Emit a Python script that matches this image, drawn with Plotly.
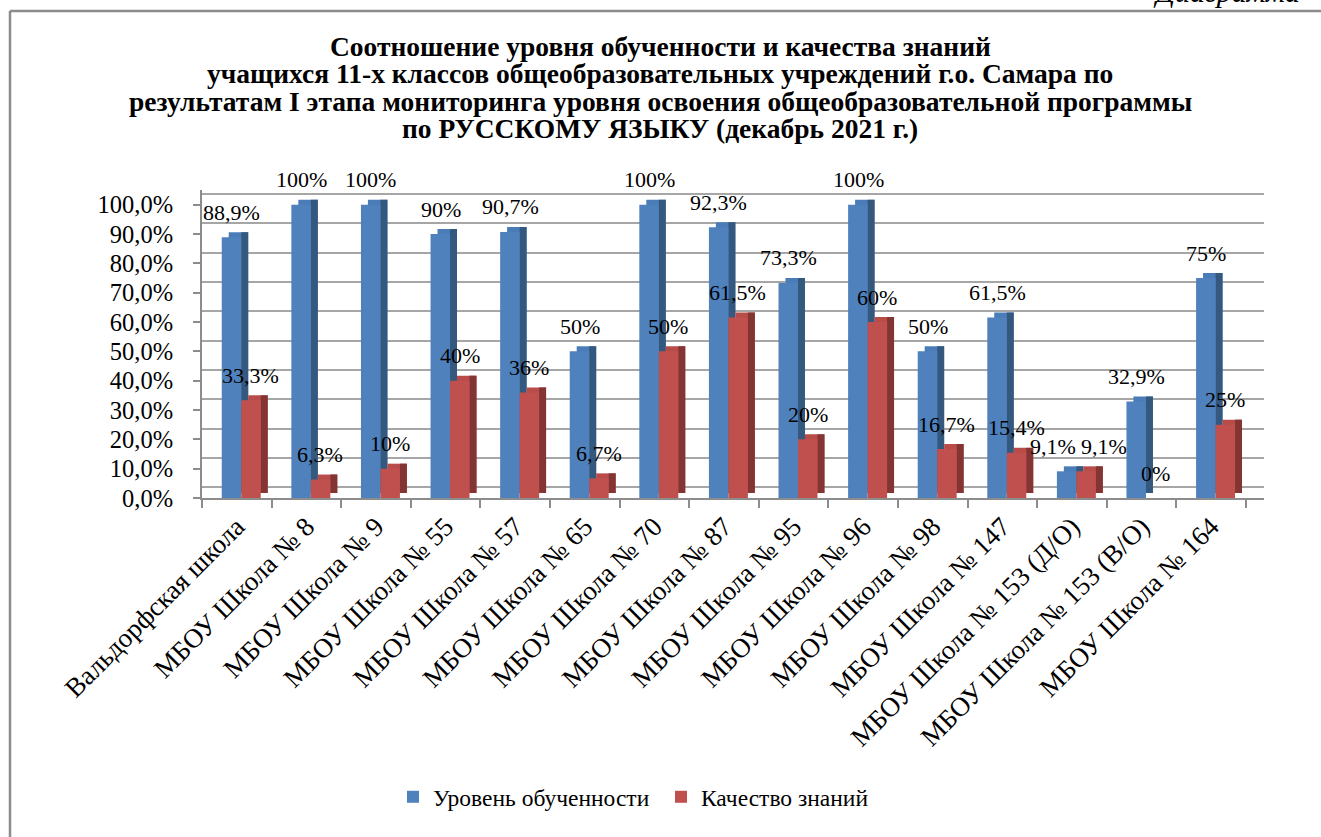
import plotly.graph_objects as go

categories = [
    "Вальдорфская школа", "МБОУ Школа № 8", "МБОУ Школа № 9", "МБОУ Школа № 55",
    "МБОУ Школа № 57", "МБОУ Школа № 65", "МБОУ Школа № 70", "МБОУ Школа № 87",
    "МБОУ Школа № 95", "МБОУ Школа № 96", "МБОУ Школа № 98", "МБОУ Школа № 147",
    "МБОУ Школа № 153 (Д/О)", "МБОУ Школа № 153 (В/О)", "МБОУ Школа № 164",
]
level = [88.9, 100, 100, 90, 90.7, 50, 100, 92.3, 73.3, 100, 50, 61.5, 9.1, 32.9, 75]
quality = [33.3, 6.3, 10, 40, 36, 6.7, 50, 61.5, 20, 60, 16.7, 15.4, 9.1, 0, 25]
series_names = ["Уровень обученности", "Качество знаний"]
y_ticks = [0, 10, 20, 30, 40, 50, 60, 70, 80, 90, 100]
y_tick_text = [f"{v:.1f}".replace(".", ",") + "%" for v in y_ticks]

title_lines = [
    "Соотношение уровня обученности и качества знаний",
    "учащихся 11-х классов общеобразовательных учреждений г.о. Самара по",
    "результатам I этапа мониторинга уровня освоения общеобразовательной программы",
    "по РУССКОМУ ЯЗЫКУ (декабрь 2021 г.)",
]

FONT = "Liberation Serif"
BAR_W = 0.28
DEPTH_X = 0.10
DEPTH_Y = 1.7

W, H = 1321, 837
L, R, T, B = 202, 57, 190, 339
PH = H - T - B


def py(pix):
    return (H - B - pix) / PH


def px(pix):
    return (pix - L) / (W - L - R)


styles = [
    dict(offset=-0.216, front="#4F81BD", top="#4A7CB8", side="#35587F", shift=-5),
    dict(offset=0.064, front="#C0504D", top="#B94C49", side="#833533", shift=14),
]
label_nudge = {12: (-14, 18)}

fig = go.Figure()
for name, vals, st in zip(series_names, [level, quality], styles):
    fig.add_trace(go.Bar(
        x=categories, y=vals, base=DEPTH_Y, offset=st["offset"] + DEPTH_X, width=BAR_W,
        marker=dict(color=st["top"], line=dict(width=0)), showlegend=False, hoverinfo="skip"))
    fig.add_trace(go.Bar(
        x=categories, y=vals, base=DEPTH_Y, offset=st["offset"] + BAR_W, width=DEPTH_X,
        marker=dict(color=st["side"], line=dict(width=0)), showlegend=False, hoverinfo="skip"))
    fig.add_trace(go.Bar(
        x=categories, y=vals, offset=st["offset"], width=BAR_W, name=name,
        marker=dict(color=st["front"], line=dict(width=0))))

annotations = []
for si, (vals, st) in enumerate(zip([level, quality], styles)):
    for i, (c, v) in enumerate(zip(categories, vals)):
        nudge = label_nudge.get(i, (0, 0))[si]
        annotations.append(dict(
            x=c, y=v, xref="x", yref="y", text=f"{v:g}".replace(".", ",") + "%",
            showarrow=False, xshift=st["shift"] + nudge, yshift=25, yanchor="middle",
            font=dict(family=FONT, size=22, color="#000000")))

for k, line in enumerate(title_lines):
    annotations.append(dict(
        x=px(660), y=py(46.5 + 27.3 * k), xref="paper", yref="paper", text=f"<b>{line}</b>",
        showarrow=False, xanchor="center", yanchor="middle",
        font=dict(family=FONT, size=27.5, color="#000000")))

annotations.append(dict(
    x=px(1302), y=py(10), xref="paper", yref="paper", text="<i>Диаграмма</i>",
    showarrow=False, xanchor="right", yanchor="bottom",
    font=dict(family=FONT, size=30, color="#000000")))

fig.add_trace(go.Scatter(x=[categories[0]], y=[0], yaxis="y2", mode="markers",
                         marker=dict(opacity=0), showlegend=False, hoverinfo="skip"))

fig.update_layout(
    width=W, height=H,
    margin=dict(l=L, r=R, t=T, b=B),
    paper_bgcolor="white", plot_bgcolor="rgba(0,0,0,0)",
    barmode="overlay",
    font=dict(family=FONT, color="#000000"),
    xaxis=dict(
        range=[-0.5, 14.76], tickangle=-45, tickfont=dict(family=FONT, size=27),
        showline=True, linecolor="#8C8C8C", linewidth=2, ticks="outside",
        tickson="boundaries", ticklen=8, tickcolor="#8C8C8C", tickwidth=2,
        showgrid=False, zeroline=False),
    yaxis=dict(
        range=[0, 105], tickvals=y_ticks, ticktext=y_tick_text,
        tickfont=dict(family=FONT, size=24.5), showgrid=False, zeroline=False,
        showline=True, linecolor="#8C8C8C", linewidth=2, ticks="outside",
        ticklen=7, tickcolor="#8C8C8C", tickwidth=2, ticklabelstandoff=15),
    yaxis2=dict(
        overlaying="y", range=[-3.6, 101.4], tickvals=y_ticks, showticklabels=False,
        showgrid=True, gridcolor="#A6A6A6", gridwidth=2, zeroline=False, layer="below traces"),
    legend=dict(orientation="h", x=px(393), xanchor="left", y=py(797), yanchor="middle",
                font=dict(family=FONT, size=23.5), traceorder="normal",
                itemwidth=30, entrywidth=223, bgcolor="rgba(0,0,0,0)"),
    annotations=annotations,
    shapes=[
        dict(type="line", xref="paper", yref="paper", x0=px(10), x1=px(1330), y0=py(11), y1=py(11),
             line=dict(color="#8C8C8C", width=2.5)),
        dict(type="line", xref="paper", yref="paper", x0=px(10), x1=px(10), y0=py(11), y1=py(850),
             line=dict(color="#8C8C8C", width=2.5)),
    ],
)

fig.write_html("out.html", config={"displayModeBar": False},
               post_script="document.body.style.margin='0';document.body.style.overflow='hidden';")
